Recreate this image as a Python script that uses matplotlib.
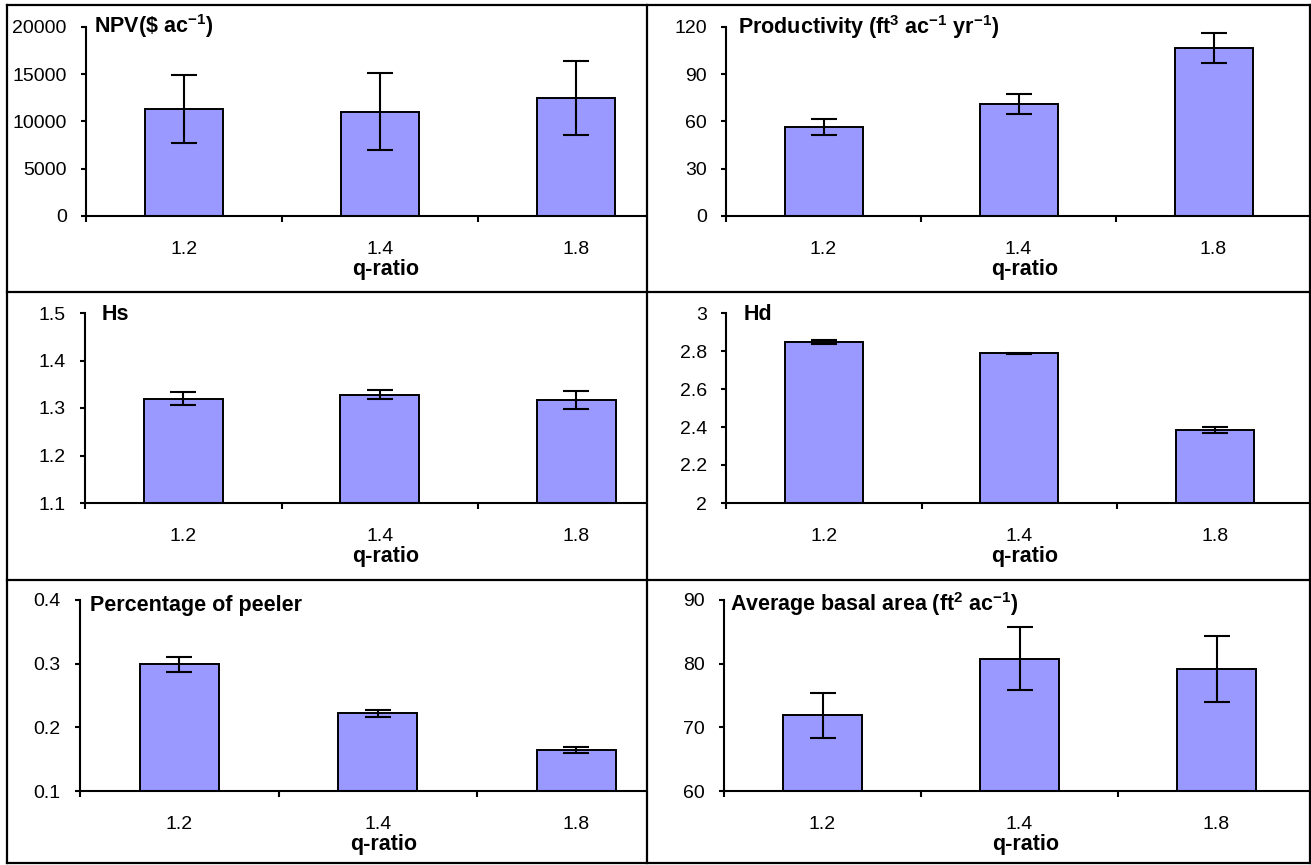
import matplotlib
matplotlib.use("Agg")
import matplotlib.pyplot as plt
from matplotlib.lines import Line2D

plt.rcParams['font.family'] = ['Liberation Sans', 'DejaVu Sans']
plt.rcParams['mathtext.fontset'] = 'custom'
plt.rcParams['mathtext.rm'] = 'Liberation Sans:bold'
plt.rcParams['mathtext.it'] = 'Liberation Sans:bold'
plt.rcParams['mathtext.bf'] = 'Liberation Sans:bold'
plt.rcParams['mathtext.default'] = 'rm'

# ---------------- data ----------------
categories = ['1.2', '1.4', '1.8']
xlabel = 'q-ratio'

npv_mean = [11300, 11050, 12500]
npv_err = [3580, 4030, 3930]

prod_mean = [56.5, 71.0, 106.8]
prod_err = [5.2, 6.2, 9.7]

hs_mean = [1.320, 1.328, 1.316]
hs_err = [0.014, 0.010, 0.019]

hd_mean = [2.847, 2.787, 2.386]
hd_err = [0.011, 0.005, 0.016]

peeler_mean = [0.299, 0.222, 0.164]
peeler_err = [0.0115, 0.005, 0.0047]

ba_mean = [71.9, 80.8, 79.2]
ba_err = [3.55, 4.9, 5.2]

titles = [r"NPV(\$ ac$^{-1}$)",
          r"Productivity (ft$^{3}$ ac$^{-1}$ yr$^{-1}$)",
          "Hs", "Hd", "Percentage of peeler",
          r"Average basal area (ft$^{2}$ ac$^{-1}$)"]

yticks_list = [[0, 5000, 10000, 15000, 20000],
               [0, 30, 60, 90, 120],
               [1.1, 1.2, 1.3, 1.4, 1.5],
               [2, 2.2, 2.4, 2.6, 2.8, 3],
               [0.1, 0.2, 0.3, 0.4],
               [60, 70, 80, 90]]
ytick_labels = [['0', '5000', '10000', '15000', '20000'],
                ['0', '30', '60', '90', '120'],
                ['1.1', '1.2', '1.3', '1.4', '1.5'],
                ['2', '2.2', '2.4', '2.6', '2.8', '3'],
                ['0.1', '0.2', '0.3', '0.4'],
                ['60', '70', '80', '90']]

means = [npv_mean, prod_mean, hs_mean, hd_mean, peeler_mean, ba_mean]
errs = [npv_err, prod_err, hs_err, hd_err, peeler_err, ba_err]

# ---------------- layout (pixels) ----------------
W, H = 1311, 865
fig = plt.figure(figsize=(W / 100, H / 100), dpi=100)

# (left, right, top, bottom, slot width, title dx, title dy)
layout = [(86, 646, 27, 216, 196, 8, -6),
          (726, 1311, 27, 216, 195, 12, -7),
          (85, 646, 313, 503, 196.5, 17, -7),
          (726, 1311, 313, 503, 195.5, 18, -7),
          (80, 646, 600, 791, 198.5, 10, -11),
          (724, 1311, 600, 791, 197, 6, -11)]

bar_color = '#9999FF'
tick_fs = 14
bold_fs = 15.5

for i, (L, R, T, B, slot, tdx, tdy) in enumerate(layout):
    ax = fig.add_axes([L / W, 1 - B / H, (R - L) / W, (B - T) / H])
    yt = yticks_list[i]
    ymin, ymax = yt[0], yt[-1]
    x = list(range(len(categories)))
    heights = [m - ymin for m in means[i]]
    ax.bar(x, heights, bottom=ymin, width=0.4, color=bar_color,
           edgecolor='black', linewidth=1.4, zorder=2)
    ax.errorbar(x, means[i], yerr=errs[i], fmt='none', ecolor='black',
                elinewidth=1.5, capsize=9.5, capthick=1.5, zorder=3)

    for s in ['top', 'right']:
        ax.spines[s].set_visible(False)
    for s in ['left', 'bottom']:
        ax.spines[s].set_linewidth(1.5)
        ax.spines[s].set_zorder(4)

    ax.set_yticks(yt)
    ax.set_yticklabels(ytick_labels[i], fontsize=tick_fs)
    ax.tick_params(axis='y', direction='out', length=3.8, width=1.5, pad=10)

    ax.set_xticks(x)
    ax.set_xticklabels(categories, fontsize=tick_fs)
    ax.set_xticks([-0.5, 0.5, 1.5, 2.5], minor=True)
    ax.tick_params(axis='x', which='major', length=0, pad=18)
    ax.tick_params(axis='x', which='minor', direction='out', length=4.5, width=1.5)

    ax.set_ylim(ymin, ymax)
    ax.set_xlim(-0.5, -0.5 + (R - L) / slot)

    ax.annotate(xlabel, xy=(1.03, 0), xycoords=('data', 'axes fraction'),
                xytext=(0, -59), textcoords='offset pixels',
                ha='center', va='baseline', fontsize=bold_fs, fontweight='bold')
    ax.annotate(titles[i], xy=(0, 1), xycoords='axes fraction',
                xytext=(tdx, tdy), textcoords='offset pixels',
                ha='left', va='baseline', fontsize=bold_fs, fontweight='bold')

# ---------------- panel frame lines ----------------
def hline(y, x0, x1):
    fig.add_artist(Line2D([x0 / W, x1 / W], [1 - y / H, 1 - y / H],
                          color='black', linewidth=1.6, transform=fig.transFigure))

def vline(x, y0, y1):
    fig.add_artist(Line2D([x / W, x / W], [1 - y0 / H, 1 - y1 / H],
                          color='black', linewidth=1.6, transform=fig.transFigure))

hline(5, 7, 1311)
hline(292, 7, 1311)
hline(580, 7, 1311)
hline(863, 7, 1311)
vline(7, 5, 863)
vline(647, 5, 863)
vline(1310, 5, 863)

fig.savefig('out.png', dpi=100)
